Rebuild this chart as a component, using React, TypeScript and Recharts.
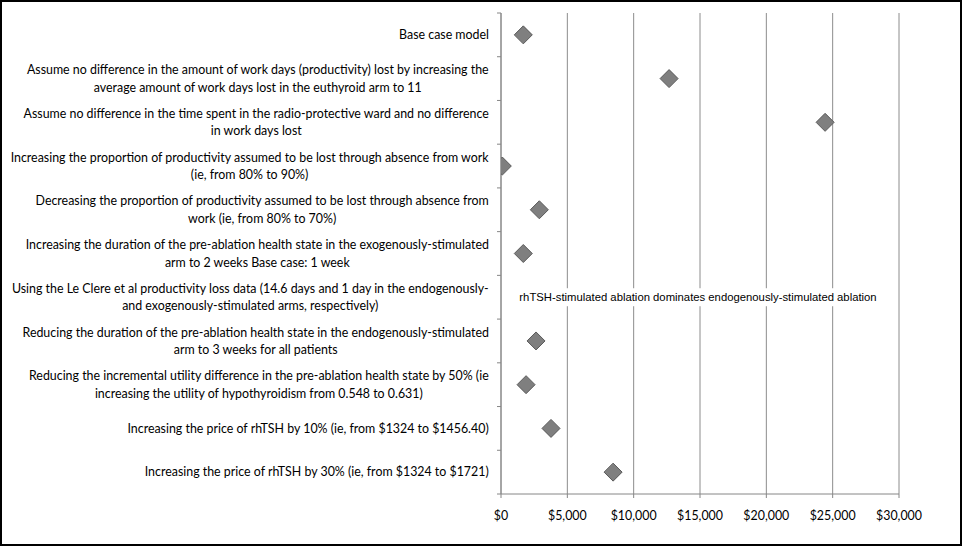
import { CartesianGrid, ReferenceDot, Scatter, ScatterChart, XAxis, YAxis } from 'recharts'

// one-way sensitivity analysis, ICER per scenario (US$)
const scenarios = [
  'Base case model',
  'Assume no difference in the amount of work days (productivity) lost by increasing the\naverage amount of work days lost in the euthyroid arm to 11',
  'Assume no difference in the time spent in the radio-protective ward and no difference\nin work days lost',
  'Increasing the proportion of productivity assumed to be lost through absence from work\n(ie, from 80% to 90%)',
  'Decreasing the proportion of productivity assumed to be lost through absence from\nwork (ie, from 80% to 70%)',
  'Increasing the duration of the pre-ablation health state in the exogenously-stimulated\narm to 2 weeks Base case: 1 week',
  'Using the Le Clere et al productivity loss data (14.6 days and 1 day in the endogenously-\nand exogenously-stimulated arms, respectively)',
  'Reducing the duration of the pre-ablation health state in the endogenously-stimulated\narm to 3 weeks for all patients',
  'Reducing the incremental utility difference in the pre-ablation health state by 50% (ie\nincreasing the utility of hypothyroidism from 0.548 to 0.631)',
  'Increasing the price of rhTSH by 10% (ie, from $1324 to $1456.40)',
  'Increasing the price of rhTSH by 30% (ie, from $1324 to $1721)',
]
const icerValues: (number | null)[] = [1680, 12670, 24430, 100, 2890, 1680, null, 2640, 1890, 3770, 8450]
const xTicks = [0, 5000, 10000, 15000, 20000, 25000, 30000]
const dominanceNote = 'rhTSH-stimulated ablation dominates endogenously-stimulated ablation'
const dominanceAt = { icer: 14850, row: 6 }

const LABEL_FONT = 'Lato'
const LABEL_SIZE = 12.4
const NOTE_FONT = '"Liberation Sans", Arial, sans-serif'
const NOTE_SIZE = 11.3
const AXIS = '#868686'

const data = scenarios
  .map((_, i) => ({ pos: i + 0.5, icer: icerValues[i] }))
  .filter((d) => d.icer != null)

const yTicks = Array.from({ length: scenarios.length * 2 + 1 }, (_, i) => i / 2)

let ctx: CanvasRenderingContext2D | null = null
function textWidth(s: string, font: string) {
  if (!ctx) ctx = document.createElement('canvas').getContext('2d')
  if (!ctx) return s.length * 6
  ctx.font = font
  return ctx.measureText(s).width
}

function ScenarioTick(props: any) {
  const { x, y, payload } = props
  const v = payload.value
  if (Number.isInteger(v)) {
    return <line x1={x - 4} x2={x} y1={y} y2={y} stroke={AXIS} />
  }
  const lines = scenarios[Math.floor(v)].split('\n')
  const w = Math.max(...lines.map((l) => textWidth(l, `${LABEL_SIZE}px ${LABEL_FONT}`)))
  const cx = x - 12 - w / 2
  const lh = 17.5
  const top = y - ((lines.length - 1) * lh) / 2
  return (
    <g>
      {lines.map((l, i) => (
        <text
          key={i}
          x={cx}
          y={top + i * lh}
          dy="0.35em"
          textAnchor="middle"
          fontFamily={LABEL_FONT}
          fontSize={LABEL_SIZE}
          fill="#000"
        >
          {l}
        </text>
      ))}
    </g>
  )
}

function Diamond(props: any) {
  const { cx, cy } = props
  const r = 9
  return (
    <path
      d={`M${cx},${cy - r}L${cx + r},${cy}L${cx},${cy + r}L${cx - r},${cy}Z`}
      fill="#7f7f7f"
      stroke="#5a5a5a"
      strokeWidth={1}
    />
  )
}

function NoteLabel(props: any) {
  const { x, y } = props.viewBox
  const w = textWidth(dominanceNote, `${NOTE_SIZE}px "Liberation Sans"`)
  return (
    <g>
      <rect x={x - w / 2 - 6} y={y - 9} width={w + 12} height={18} fill="#fff" />
      <text
        x={x}
        y={y}
        dy="0.35em"
        textAnchor="middle"
        fontFamily={NOTE_FONT}
        fontSize={NOTE_SIZE}
        fill="#000"
      >
        {dominanceNote}
      </text>
    </g>
  )
}

export default function App() {
  return (
    <div style={{ position: 'absolute', left: 0, top: 0, width: 963, height: 547, background: '#fff' }}>
      <ScatterChart width={963} height={547} margin={{ top: 13, right: 64, bottom: 0, left: 0 }}>
        <CartesianGrid horizontal={false} stroke="#8c8c8c" />
        <XAxis
          type="number"
          dataKey="icer"
          domain={[0, 30000]}
          ticks={xTicks}
          allowDataOverflow
          interval={0}
          height={53}
          tickSize={4}
          tickMargin={13}
          stroke={AXIS}
          tick={{ fontFamily: LABEL_FONT, fontSize: 12.4, fill: '#000' }}
          tickFormatter={(v) => `$${Number(v).toLocaleString('en-US')}`}
        />
        <YAxis
          type="number"
          dataKey="pos"
          domain={[0, scenarios.length]}
          reversed
          ticks={yTicks}
          interval={0}
          width={501}
          tickSize={0}
          tickMargin={0}
          tickLine={false}
          stroke={AXIS}
          tick={<ScenarioTick />}
        />
        <Scatter data={data} shape={Diamond} isAnimationActive={false} />
        <ReferenceDot
          x={dominanceAt.icer}
          y={dominanceAt.row + 0.5}
          r={0}
          fill="none"
          stroke="none"
          label={(p: any) => <NoteLabel {...p} />}
        />
      </ScatterChart>
      <div
        style={{
          position: 'absolute',
          left: 0,
          top: 0,
          width: 962,
          height: 546,
          border: '2px solid #000',
          boxSizing: 'border-box',
          pointerEvents: 'none',
        }}
      />
    </div>
  )
}
